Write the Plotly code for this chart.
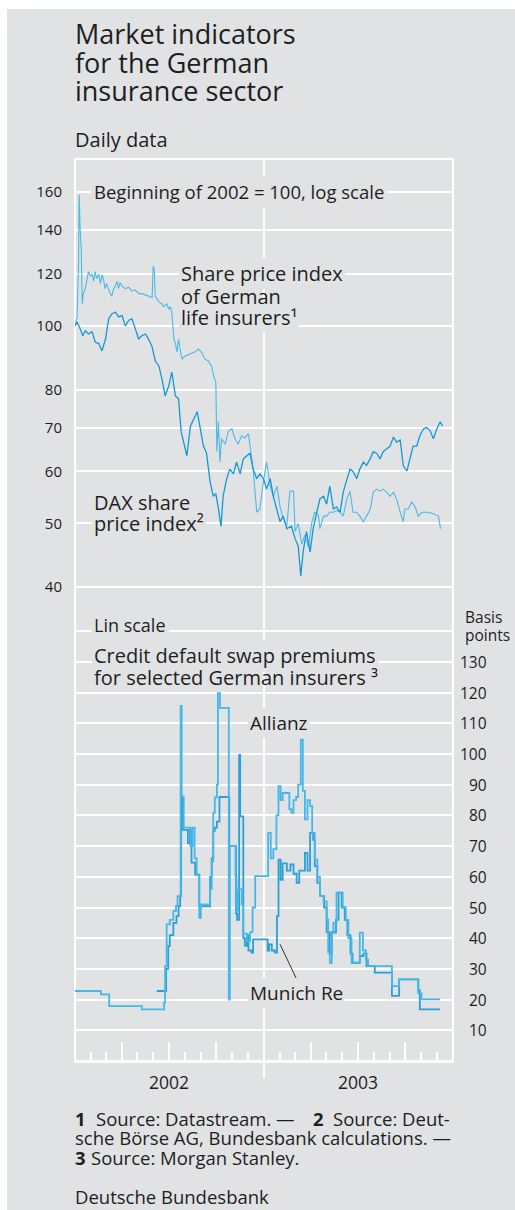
import math
import pandas as pd
import plotly.graph_objects as go

# ---------------- data ----------------
START = "2002-01-01"   # day 0 of the day offsets below
X_END = "2004-01-01"

# DAX share price index (beginning of 2002 = 100)
dax_days = [0, 4, 10, 15, 20, 26, 33, 39, 46, 52, 59, 65, 71, 78, 84, 91, 97, 104, 110, 116,
            123, 129, 136, 142, 149, 155, 162, 168, 174, 181, 187, 194, 200, 205, 210, 216, 223,
            229, 236, 242, 248, 254, 261, 267, 272, 277, 282, 286, 293, 299, 306, 312, 319, 325,
            332, 338, 344, 351, 357, 364, 370, 377, 383, 390, 396, 402, 409, 418, 425, 431, 436,
            441, 447, 454, 460, 467, 473, 480, 486, 492, 499, 505, 512, 518, 525, 531, 537, 544,
            550, 557, 563, 570, 576, 583, 589, 595, 602, 608, 615, 621, 628, 634, 641, 647, 653,
            660, 666, 673, 679, 686, 692, 699, 705, 710]
dax_vals = [100, 101.4, 99, 96.6, 98.3, 97.2, 98, 94.5, 94, 91.6, 95.5, 102.5, 104.3, 105, 103.2,
            103.7, 100, 102, 102.5, 99, 95.5, 96.6, 97.2, 95.5, 92.9, 88.4, 86.9, 83, 78.2, 81, 85,
            78.2, 77.4, 69, 66.6, 63.4, 70.4, 72.2, 74, 69.7, 65.6, 64, 57.8, 55, 55.5, 52.6, 49.5,
            55, 58.5, 60.5, 59.5, 62, 59.5, 62.7, 63.4, 64, 60.5, 58.5, 59.5, 58.5, 56.4, 58.5, 55,
            52.6, 50.3, 51.3, 49.1, 49.5, 47.4, 46.2, 41.6, 45.5, 48.6, 45.2, 49.1, 52, 54.5, 55,
            53.5, 57, 52.6, 53, 52, 55.8, 58.5, 60.5, 60, 58.5, 60.5, 62, 61.3, 62.7, 64.3, 63.9,
            62.7, 64.3, 65, 65.5, 67.7, 66.5, 67, 61.2, 60.1, 62.7, 65.6, 65.6, 68, 69.7, 70, 69.2,
            67.3, 69.7, 71.4, 70.4]

# Share price index of German life insurers (beginning of 2002 = 100)
life_days = [0, 4, 7, 8, 10, 12, 14, 16, 20, 23, 26, 30, 33, 36, 39, 42, 46, 49, 52, 55, 58, 61,
             65, 68, 71, 75, 78, 81, 84, 87, 91, 97, 104, 110, 116, 123, 129, 136, 142, 149, 151,
             153, 155, 162, 168, 171, 177, 181, 184, 187, 191, 194, 197, 200, 203, 207, 213, 220,
             226, 232, 238, 245, 251, 257, 264, 268, 272, 274, 277, 280, 283, 290, 296, 303, 309,
             315, 322, 328, 335, 338, 342, 344, 351, 357, 364, 370, 377, 383, 390, 396, 402, 409,
             415, 422, 425, 431, 438, 444, 451, 457, 463, 470, 473, 480, 486, 492, 499, 505, 512,
             518, 525, 531, 537, 544, 550, 557, 563, 570, 576, 583, 589, 595, 602, 608, 615, 621,
             628, 634, 637, 644, 650, 657, 663, 670, 676, 682, 689, 695, 702, 706]
life_vals = [100, 103, 125, 158.4, 140, 131, 108, 112, 114, 118, 121, 119, 120, 117, 121, 118, 120,
             116, 119.5, 118, 114, 116, 113.5, 112, 111, 114, 115, 117, 114, 116.5, 115, 114, 114.5,
             113, 113.5, 112, 112, 111.5, 111, 110.5, 123.4, 122, 111, 108.8, 108, 107, 108, 106,
             107, 105, 95.5, 94, 91.3, 95.5, 92, 89, 90, 90.5, 91, 91.3, 92.2, 91, 89, 88.5, 86.7,
             83.7, 82, 64.3, 71.4, 62, 67.3, 66, 69, 69.7, 67.3, 66, 68, 67.5, 68.5, 66, 63, 60.5,
             52, 52.6, 58, 62, 57, 55, 57, 53, 51, 49.5, 56, 56, 48.6, 50, 46.5, 48, 46, 50, 52,
             51.5, 49.1, 51.3, 51.3, 52, 52, 52.3, 52, 51.3, 54.5, 56, 52, 52, 51.3, 50.3, 51.3,
             52.5, 55.8, 56.4, 56, 56.4, 55.8, 55, 55.8, 54.5, 52, 50.3, 52.6, 52.6, 53.9, 53, 51.3,
             52, 52, 52, 51.8, 51.5, 51.3, 49.1]

# Credit default swap premiums, basis points (step data)
allianz_days = [0, 50, 66, 129, 172, 174, 177, 183, 190, 195, 198, 203, 204, 206, 210, 223, 227,
                231, 235, 240, 243, 261, 264, 267, 270, 274, 276, 280, 297, 299, 310, 312, 315,
                322, 325, 332, 338, 343, 348, 373, 378, 383, 389, 393, 397, 401, 414, 418, 422,
                427, 431, 436, 440, 444, 449, 454, 458, 463, 468, 473, 480, 486, 489, 492, 496,
                499, 505, 517, 523, 528, 534, 550, 556, 562, 566, 612, 626, 663, 669, 705]
allianz_vals = [22.8, 21.7, 17.9, 16.8, 19, 30.9, 44.5, 46, 48.8, 50.5, 53.7, 54, 115.7, 86, 76,
                70, 76, 66, 60.7, 46.6, 51, 56, 65, 80.9, 85.9, 90, 119.8, 115, 20, 70, 60, 49, 56,
                51, 41.5, 39, 42, 50, 60.2, 74.3, 66, 69, 80, 89.5, 85, 87.3, 82, 80.8, 85, 86, 90,
                104.7, 88, 78.7, 85, 83, 74.3, 65.6, 60, 53.7, 52, 46.1, 35.3, 32, 42, 45, 54.8,
                50, 46, 40, 32, 41.8, 36, 33, 30.9, 24.4, 26.6, 22, 20.1, 20.1]

munich_days = [158, 176, 180, 183, 190, 196, 200, 203, 205, 208, 218, 222, 225, 232, 240, 261,
               264, 267, 270, 274, 279, 298, 311, 313, 317, 319, 325, 328, 332, 335, 341, 344,
               372, 375, 380, 386, 390, 393, 397, 401, 409, 416, 422, 428, 433, 444, 449, 454,
               460, 463, 468, 473, 481, 486, 492, 496, 500, 504, 509, 515, 521, 526, 532, 536,
               550, 557, 563, 579, 612, 626, 663, 666, 705]
munich_vals = [22.8, 30, 37.4, 41, 45, 47.2, 50.4, 53.7, 86.2, 75.3, 71, 75.3, 64.6, 60.7, 50.4,
               60, 66, 75, 76, 78, 86, 70, 48, 46, 99.7, 79.7, 40, 37.5, 41, 36, 35.3, 39.6, 36,
               38, 36, 35.3, 47.2, 65.6, 59, 64.4, 62, 64, 61, 58, 62, 67.8, 62, 74.3, 72, 63.5,
               58, 53.7, 50, 42, 35, 42, 41.8, 46, 54.8, 50, 46, 41, 35, 32, 34.2, 35, 30.9, 28.8,
               21.2, 26.6, 23, 16.8, 16.8]

log_ticks = [40, 50, 60, 70, 80, 100, 120, 140, 160]
lin_grid = [0, 10, 20, 30, 40, 50, 60, 70, 80, 90, 100, 110, 120, 130, 140]
lin_labels = [10, 20, 30, 40, 50, 60, 70, 80, 90, 100, 110, 120, 130]
years = ["2002", "2003"]
year_mid = ["2002-07-02", "2003-07-02"]
year_break = "2003-01-01"

# ---------------- style ----------------
BG = "#e1e2e4"
GRID = "#ffffff"
INK = "#1e1e1e"
DAX_C = "#1598d6"
LIFE_C = "#4db9e6"
ALL_C = "#46b7e7"
MUN_C = "#2aa0d9"
FONT = "Open Sans, Noto Sans, DejaVu Sans, sans-serif"
NUMFONT = "Open Sans, sans-serif"

# page coordinates (body margin removed by the post script, figure at 0,0)
W, H = 515, 1210
PL, PT, PW, PH = 75, 159, 378, 902   # plot area in page pixels


def xp(px):
    return (px - PL) / PW


def yp(py):
    return (PT + PH - py) / PH


def to_dates(days):
    base = pd.Timestamp(START)
    return [base + pd.Timedelta(days=d) for d in days]


SPLIT = yp(605)

fig = go.Figure()
fig.add_trace(go.Scatter(x=to_dates(life_days), y=life_vals, mode="lines",
                         line=dict(color=LIFE_C, width=1.1), xaxis="x", yaxis="y",
                         name="Life insurers", hoverinfo="skip"))
fig.add_trace(go.Scatter(x=to_dates(dax_days), y=dax_vals, mode="lines",
                         line=dict(color=DAX_C, width=1.3), xaxis="x", yaxis="y",
                         name="DAX", hoverinfo="skip"))
fig.add_trace(go.Scatter(x=to_dates(munich_days), y=munich_vals, mode="lines",
                         line=dict(color=MUN_C, width=1.8, shape="hv"), xaxis="x", yaxis="y2",
                         name="Munich Re", hoverinfo="skip"))
fig.add_trace(go.Scatter(x=to_dates(allianz_days), y=allianz_vals, mode="lines",
                         line=dict(color=ALL_C, width=1.8, shape="hv"), xaxis="x", yaxis="y2",
                         name="Allianz", hoverinfo="skip"))

top_val = 160 * math.exp((192 - PT) / 285.0)
bot_val = 40 * math.exp(-(605 - 587) / 285.0)

fig.update_layout(
    width=W, height=H,
    margin=dict(l=PL, r=W - PL - PW, t=PT, b=H - PT - PH, pad=0),
    paper_bgcolor="white", plot_bgcolor=BG, showlegend=False,
    font=dict(family=FONT, color=INK),
    xaxis=dict(type="date", range=[START, X_END], anchor="y2", domain=[0, 1],
               showgrid=False, zeroline=False, showline=True, linecolor=GRID, linewidth=2,
               ticks="inside", ticklen=19, tickwidth=2, tickcolor=GRID,
               dtick="M3", tick0=START, showticklabels=False,
               minor=dict(ticks="inside", ticklen=9, tickwidth=2, tickcolor=GRID,
                          dtick="M1", tick0=START, showgrid=False)),
    yaxis=dict(type="log", domain=[SPLIT, 1],
               range=[math.log10(bot_val), math.log10(top_val)],
               tickvals=log_ticks, ticktext=[str(v) for v in log_ticks],
               showgrid=True, gridcolor=GRID, gridwidth=2, zeroline=False,
               ticks="", ticklabelstandoff=12, showline=False,
               tickfont=dict(family=NUMFONT, size=15, color=INK)),
    yaxis2=dict(domain=[0, SPLIT], range=[0, (1061.75 - 605) / 3.075],
                tickvals=lin_grid, showticklabels=False,
                showgrid=True, gridcolor=GRID, gridwidth=2, zeroline=False, showline=False),
)

shapes = [
    # grey panel (white strip left and top, as in the original)
    dict(type="rect", xref="paper", yref="paper", x0=xp(7), x1=xp(W + 10), y0=yp(H + 10), y1=yp(9),
         fillcolor=BG, line=dict(width=0), layer="below"),
    # frame
    dict(type="rect", xref="paper", yref="paper", x0=0, x1=1, y0=0, y1=1,
         line=dict(color=GRID, width=2), layer="below"),
    # year divider
    dict(type="line", xref="x", yref="paper", x0=year_break, x1=year_break, y0=yp(1078), y1=1,
         line=dict(color=GRID, width=2), layer="below"),
    # Munich Re leader line
    dict(type="line", xref="x", yref="y2", x0=to_dates([396])[0], y0=38,
         x1=to_dates([431])[0], y1=25.6, line=dict(color=INK, width=0.9), layer="above"),
]
fig.update_layout(shapes=shapes)

ann = []


def label(text, px_left, baseline, size, bg=False, pad=3, anchor="left", bold=False):
    yc = baseline - 0.388 * size
    font = dict(family=FONT, size=size, color=INK)
    if bold:
        font["weight"] = "bold"
    a = dict(text=text, xref="paper", yref="paper", y=yp(yc), yanchor="middle",
             showarrow=False, font=font, borderwidth=0)
    off = 0
    if bg:
        a.update(bgcolor=BG, borderpad=pad)
        off = pad
    else:
        a.update(borderpad=0)
    if anchor == "left":
        a.update(x=xp(px_left - off), xanchor="left")
    elif anchor == "right":
        a.update(x=xp(px_left + off), xanchor="right")
    else:
        a.update(x=xp(px_left), xanchor="center")
    ann.append(a)


# title
label("Market indicators", 75, 44, 27)
label("for the German", 75, 72.7, 27)
label("insurance sector", 75, 101, 27)
label("Daily data", 75, 147.7, 20)

# labels that interrupt grid lines (drawn first)
label("Beginning of 2002 = 100, log scale", 94.3, 199, 18.5, bg=True)
label("Share price index", 181, 281.7, 20, bg=True, pad=2)
label("life insurers\u00b9", 181, 325, 20, bg=True, pad=2)
label("price index\u00b2", 94.3, 531.7, 20, bg=True, pad=2)
label("Lin scale", 94.3, 632.3, 18, bg=True)
label("Credit default swap premiums", 94.3, 663.3, 20, bg=True, pad=2)
label("Allianz", 250, 730, 19, bg=True, pad=2)
label("Munich Re", 250, 1000, 19, bg=True, pad=2)

# plain label lines drawn on top
label("of German", 181, 304, 20)
label("DAX share", 94.3, 510, 20)
label("for selected German insurers \u00b3", 94.3, 685, 20)
label("Basis", 465, 622.7, 15.5)
label("points", 465, 640.7, 15.5)

# right-hand scale labels
for v in lin_labels:
    ann.append(dict(text=str(v), xref="paper", yref="y2", x=xp(489), y=v,
                    xanchor="right", yanchor="middle", showarrow=False,
                    font=dict(family=NUMFONT, size=15.5, color=INK)))

# year labels
for ylab, xm in zip(years, year_mid):
    ann.append(dict(text=ylab, xref="x", yref="paper", x=xm, y=yp(1088.3 - 0.388 * 17.5),
                    xanchor="center", yanchor="middle", showarrow=False,
                    font=dict(family=FONT, size=17.5, color=INK)))

# footnotes
label("1", 75, 1125.7, 18.5, bold=True)
label("Source: Datastream. \u2014", 96, 1125.7, 18.5)
label("2", 312.7, 1125.7, 18.5, bold=True)
label("Source: Deut-", 450, 1125.7, 18.5, anchor="right")
label("sche Börse AG, Bundesbank calculations. \u2014", 75, 1145, 18.5)
label("3", 75, 1164.3, 18.5, bold=True)
label("Source: Morgan Stanley.", 91, 1164.3, 18.5)
label("Deutsche Bundesbank", 75, 1203.3, 18.5)

fig.update_layout(annotations=ann)

fig.write_html(
    "out.html",
    config={"displayModeBar": False, "staticPlot": True},
    post_script="document.body.style.margin='0px';"
                "document.documentElement.style.overflow='hidden';"
                "document.body.style.overflow='hidden';",
)
